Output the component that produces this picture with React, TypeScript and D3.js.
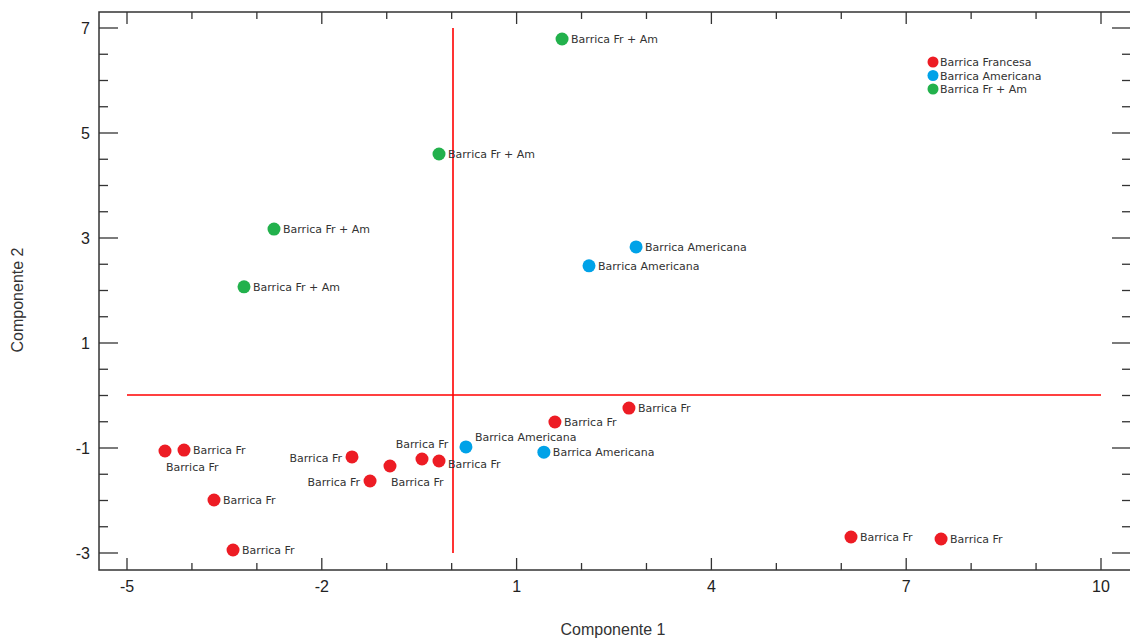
import React from "react";
import * as d3 from "d3";

// Componente 1 / Componente 2 scores
const frenchX = [2.73, 1.59, -4.415, -4.122, -1.535, -0.95, -0.457, -0.195, -1.257, -3.66, -3.367, 6.15, 7.537];
const frenchY = [-0.24, -0.505, -1.057, -1.04, -1.17, -1.343, -1.21, -1.248, -1.629, -1.99, -2.943, -2.695, -2.733];
const frenchSide = ["right", "right", "below", "right", "left", "below", "above", "rightLow", "left", "right", "right", "right", "right"];

const americanX = [2.84, 2.115, 0.22, 1.42];
const americanY = [2.83, 2.47, -0.98, -1.08];
const americanSide = ["right", "right", "aboveRight", "right"];

const mixX = [1.7, -0.195, -2.736, -3.198];
const mixY = [6.79, 4.6, 3.17, 2.07];
const mixSide = ["right", "right", "right", "right"];

const seriesNames = ["Barrica Francesa", "Barrica Americana", "Barrica Fr + Am"];
const pointLabels = ["Barrica Fr", "Barrica Americana", "Barrica Fr + Am"];
const colors = ["#ed1c24", "#00a2e8", "#22b14c"];

const xMajor = [-5, -2, 1, 4, 7, 10];
const yMajor = [-3, -1, 1, 3, 5, 7];

const W = 1130;
const H = 639;
const frame = { left: 99, right: 1131, top: 12, bottom: 570 };

export default function App() {
  const x = d3.scaleLinear().domain([-5, 10]).range([127, 1101]);
  const y = d3.scaleLinear().domain([-3, 7]).range([553, 28]);

  const xMinor = d3.range(-5, 11, 1).filter((v) => !xMajor.includes(v));
  const yMinor = d3.range(-3, 7.01, 0.5).filter((v) => !yMajor.includes(v));

  const groups = [
    { xs: frenchX, ys: frenchY, sides: frenchSide },
    { xs: americanX, ys: americanY, sides: americanSide },
    { xs: mixX, ys: mixY, sides: mixSide },
  ];

  const labelProps = (side: string, px: number, py: number) => {
    if (side === "left") return { x: px - 10, y: py + 5, anchor: "end" };
    if (side === "below") return { x: px + 1, y: py + 20, anchor: "start" };
    if (side === "above") return { x: px, y: py - 11, anchor: "middle" };
    if (side === "aboveRight") return { x: px + 9, y: py - 6, anchor: "start" };
    if (side === "rightLow") return { x: px + 9, y: py + 7, anchor: "start" };
    return { x: px + 9, y: py + 4, anchor: "start" };
  };

  const tickFont = "'Liberation Sans', Arial, sans-serif";
  const labelFont = "'DejaVu Sans', Verdana, sans-serif";

  const x0 = Math.round(x(0)) + 1;
  const y0 = Math.round(y(0));

  return (
    <svg
      width={W}
      height={H}
      style={{ position: "absolute", left: 0, top: 0, background: "#fff" }}
    >
      {/* frame */}
      <rect
        x={frame.left}
        y={frame.top}
        width={frame.right - frame.left}
        height={frame.bottom - frame.top}
        fill="none"
        stroke="#333"
        strokeWidth={1.5}
      />

      {/* x ticks, bottom and top */}
      {xMajor.map((v) => (
        <g key={"xM" + v} stroke="#333" strokeWidth={1.3}>
          <line x1={x(v)} x2={x(v)} y1={frame.bottom} y2={frame.bottom - 12} />
          <line x1={x(v)} x2={x(v)} y1={frame.top} y2={frame.top + 12} />
        </g>
      ))}
      {xMinor.map((v) => (
        <g key={"xm" + v} stroke="#333" strokeWidth={1.3}>
          <line x1={x(v)} x2={x(v)} y1={frame.bottom} y2={frame.bottom - 7} />
          <line x1={x(v)} x2={x(v)} y1={frame.top} y2={frame.top + 7} />
        </g>
      ))}
      {xMajor.map((v) => (
        <text
          key={"xl" + v}
          x={x(v)}
          y={592}
          textAnchor="middle"
          fontFamily={tickFont}
          fontSize={16}
          fill="#222"
        >
          {v}
        </text>
      ))}

      {/* y ticks, left and right */}
      {yMajor.map((v) => (
        <g key={"yM" + v} stroke="#333" strokeWidth={1.3}>
          <line x1={frame.left} x2={frame.left + 19} y1={y(v)} y2={y(v)} />
          <line x1={frame.right} x2={frame.right - 19} y1={y(v)} y2={y(v)} />
        </g>
      ))}
      {yMinor.map((v) => (
        <g key={"ym" + v} stroke="#333" strokeWidth={1.3}>
          <line x1={frame.left} x2={frame.left + 9} y1={y(v)} y2={y(v)} />
          <line x1={frame.right} x2={frame.right - 9} y1={y(v)} y2={y(v)} />
        </g>
      ))}
      {yMajor.map((v) => (
        <text
          key={"yl" + v}
          x={90}
          y={y(v) + 6}
          textAnchor="end"
          fontFamily={tickFont}
          fontSize={16}
          fill="#222"
        >
          {v}
        </text>
      ))}

      {/* axis titles */}
      <text
        x={613}
        y={635}
        textAnchor="middle"
        fontFamily={tickFont}
        fontSize={16}
        fill="#333"
      >
        Componente 1
      </text>
      <text
        transform={`translate(23,300) rotate(-90)`}
        textAnchor="middle"
        fontFamily={tickFont}
        fontSize={16}
        fill="#333"
      >
        Componente 2
      </text>

      {/* reference lines through the origin */}
      <g stroke="#ff0000" strokeWidth={1.6}>
        <line x1={x(-5)} x2={x(10)} y1={y0} y2={y0} />
        <line x1={x0} x2={x0} y1={y(-3)} y2={y(7)} />
      </g>

      {/* points and their labels */}
      {groups.map((g, gi) =>
        g.xs.map((xv, i) => {
          const px = x(xv);
          const py = y(g.ys[i]);
          const lp = labelProps(g.sides[i], px, py);
          return (
            <g key={`p${gi}-${i}`}>
              <circle cx={px} cy={py} r={6.5} fill={colors[gi]} />
              <text
                x={lp.x}
                y={lp.y}
                textAnchor={lp.anchor}
                fontFamily={labelFont}
                fontSize={11}
                fill="#333"
              >
                {pointLabels[gi]}
              </text>
            </g>
          );
        })
      )}

      {/* legend */}
      {seriesNames.map((name, i) => (
        <g key={"lg" + i} transform={`translate(933,${62 + i * 13.5})`}>
          <circle r={5.5} fill={colors[i]} />
          <text x={7} y={4} fontFamily={labelFont} fontSize={11} fill="#333">
            {name}
          </text>
        </g>
      ))}
    </svg>
  );
}
